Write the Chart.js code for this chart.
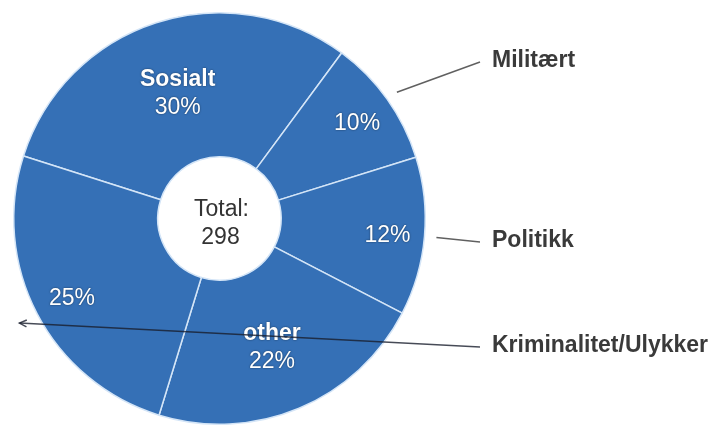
<!DOCTYPE html>
<html>
<head>
<meta charset="utf-8">
<script src="https://cdn.jsdelivr.net/npm/chart.js@4.4.1/dist/chart.umd.min.js"></script>
<style>
    html, body { margin: 0; padding: 0; background: #fff; }
    #wrap { width: 717px; height: 425px; position: relative; }
</style>
</head>
<body>
<div id="wrap"><canvas id="topicChart"></canvas></div>
<script>
// ========== 数据 ==========
const categories = ['Sosialt', 'Militært', 'Politikk', 'other', 'Kriminalitet/Ulykker'];
const counts = [90, 30, 37, 66, 75];
// 在扇区内显示名称的类别
const namedInside = ['Sosialt', 'other'];
// 右侧引线标注的类别
const calloutLabels = ['Militært', 'Politikk', 'Kriminalitet/Ulykker'];
const totalCaption = 'Total:';

const total = counts.reduce((a, b) => a + b, 0);
const FONT = '"Liberation Sans", Arial, sans-serif';

function pct(v) {
    return Math.round(v / total * 100) + '%';
}

function arcPoint(p, angle, r) {
    return { x: p.x + Math.cos(angle) * r, y: p.y + Math.sin(angle) * r };
}

// ========== 扇区内文字 ==========
const sliceLabelPlugin = {
    id: 'sliceLabels',
    afterDatasetsDraw(chart) {
        const ctx = chart.ctx;
        const meta = chart.getDatasetMeta(0);
        ctx.save();
        ctx.textAlign = 'center';
        ctx.textBaseline = 'middle';
        ctx.fillStyle = '#fff';
        ctx.shadowColor = 'rgba(0,0,0,0.55)';
        ctx.shadowBlur = 2;
        meta.data.forEach((arc, i) => {
            const p = arc.getProps(['x', 'y', 'startAngle', 'endAngle', 'outerRadius'], true);
            const mid = (p.startAngle + p.endAngle) / 2;
            const twoLine = namedInside.includes(categories[i]);
            const pos = arcPoint(p, mid, p.outerRadius * (twoLine ? 0.66 : 0.815));
            if (twoLine) {
                ctx.font = 'bold 23px ' + FONT;
                ctx.fillText(categories[i], pos.x, pos.y - 10);
                ctx.font = '23px ' + FONT;
                ctx.fillText(pct(counts[i]), pos.x, pos.y + 18);
            } else {
                ctx.font = '23px ' + FONT;
                ctx.fillText(pct(counts[i]), pos.x + 1, pos.y + 2);
            }
        });
        ctx.restore();

        // 中心合计
        const c = meta.data[0];
        ctx.save();
        ctx.textAlign = 'center';
        ctx.textBaseline = 'middle';
        ctx.fillStyle = '#333';
        ctx.font = '23px ' + FONT;
        ctx.fillText(totalCaption, c.x + 2, c.y - 9);
        ctx.fillText(String(total), c.x + 1, c.y + 19);
        ctx.restore();
    }
};

// ========== 右侧引线标注 ==========
const calloutPlugin = {
    id: 'callouts',
    afterDraw(chart) {
        const ctx = chart.ctx;
        const meta = chart.getDatasetMeta(0);
        const textX = 492;
        const textY = { 'Militært': 61, 'Politikk': 241, 'Kriminalitet/Ulykker': 346 };
        const gap = { 'Militært': 12, 'Politikk': 12, 'Kriminalitet/Ulykker': 20 };

        ctx.save();
        calloutLabels.forEach(name => {
            const i = categories.indexOf(name);
            const p = meta.data[i].getProps(['x', 'y', 'startAngle', 'endAngle', 'outerRadius'], true);
            const mid = (p.startAngle + p.endAngle) / 2;
            const tip = arcPoint(p, mid, p.outerRadius + gap[name]);
            const y = textY[name];
            const arrow = name === 'Kriminalitet/Ulykker';

            ctx.strokeStyle = arrow ? 'rgba(25,30,45,0.8)' : '#606060';
            ctx.lineWidth = 1.5;
            ctx.beginPath();
            ctx.moveTo(textX - 12, y + 1);
            ctx.lineTo(tip.x, tip.y);
            ctx.stroke();

            if (arrow) {
                const ang = Math.atan2(tip.y - (y + 1), tip.x - (textX - 12));
                ctx.beginPath();
                ctx.moveTo(tip.x - Math.cos(ang - 0.45) * 8, tip.y - Math.sin(ang - 0.45) * 8);
                ctx.lineTo(tip.x, tip.y);
                ctx.lineTo(tip.x - Math.cos(ang + 0.45) * 8, tip.y - Math.sin(ang + 0.45) * 8);
                ctx.stroke();
            }

            ctx.fillStyle = '#3a3a3a';
            ctx.font = 'bold 23px ' + FONT;
            ctx.textAlign = 'left';
            ctx.textBaseline = 'middle';
            ctx.fillText(name, textX, y);
        });
        ctx.restore();
    }
};

new Chart(document.getElementById('topicChart'), {
    type: 'doughnut',
    data: {
        labels: categories,
        datasets: [{
            data: counts,
            backgroundColor: '#3570b6',
            borderColor: '#d4e5f7',
            borderWidth: 1.5
        }]
    },
    options: {
        responsive: true,
        maintainAspectRatio: false,
        animation: false,
        cutout: '30%',
        rotation: -72.3,
        layout: { padding: { top: 12, bottom: 0, left: 13, right: 291 } },
        plugins: {
            legend: { display: false },
            tooltip: { enabled: false }
        }
    },
    plugins: [sliceLabelPlugin, calloutPlugin]
});
</script>
</body>
</html>
